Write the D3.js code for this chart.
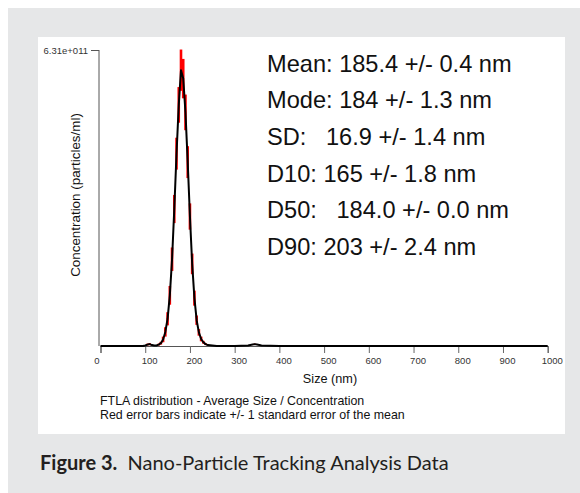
<!DOCTYPE html>
<html>
<head>
<meta charset="utf-8">
<script src="https://cdn.jsdelivr.net/npm/d3@7"></script>
<style>
  body { margin: 0; background: #fff; }
  text { font-family: "Liberation Sans", Arial, sans-serif; }
</style>
</head>
<body>
<div class="nta-plot"></div>
<script>
// size bins (nm) and concentration (x 1e11 particles/ml)
const sizes = [0, 50, 95, 100, 105, 110, 115, 120, 125, 130, 135, 140, 145, 150, 155, 160, 165, 170, 175,
  180, 185, 190, 195, 200, 205, 210, 215, 220, 225, 230, 235, 240, 250, 260, 300, 330, 340, 345, 350, 360, 400, 1000];
const conc = [0, 0, 0, 0.01, 0.03, 0.04, 0.02, 0.01, 0.01, 0.03, 0.06, 0.14, 0.30, 0.58, 1.08, 1.85, 2.92, 4.10, 5.14,
  5.88, 5.70, 4.98, 3.92, 2.76, 1.75, 1.02, 0.55, 0.29, 0.15, 0.08, 0.04, 0.02, 0.01, 0, 0, 0.01, 0.03, 0.04, 0.03, 0.01, 0, 0];
// standard error of the mean for each bin (same units)
const sem = [0, 0, 0, 0.01, 0.02, 0.02, 0.01, 0.01, 0.01, 0.02, 0.03, 0.06, 0.1, 0.14, 0.2, 0.25, 0.3, 0.34, 0.38,
  0.44, 0.42, 0.38, 0.34, 0.28, 0.22, 0.16, 0.1, 0.07, 0.05, 0.03, 0.02, 0.01, 0, 0, 0, 0, 0.01, 0.01, 0.01, 0, 0, 0];

const xTicks = [0, 100, 200, 300, 400, 500, 600, 700, 800, 900, 1000];
const yMax = 6.31; // 6.31e+011
const yTickLabels = ['6.31e+011'];

const stats = [
  'Mean: 185.4 +/- 0.4 nm',
  'Mode: 184 +/- 1.3 nm',
  'SD:   16.9 +/- 1.4 nm',
  'D10: 165 +/- 1.8 nm',
  'D50:   184.0 +/- 0.0 nm',
  'D90: 203 +/- 2.4 nm'
];
const notes = [
  'FTLA distribution - Average Size / Concentration',
  'Red error bars indicate +/- 1 standard error of the mean'
];

const width = 580;
const height = 493;
const svg = d3.select('.nta-plot')
  .append('svg')
  .attr('width', width)
  .attr('height', height);

// grey panel + white figure box
svg.append('rect').attr('x', 8).attr('y', 8).attr('width', width - 8).attr('height', height - 8).attr('fill', '#e6e7e8');
svg.append('rect').attr('x', 38).attr('y', 37).attr('width', 527).attr('height', 397).attr('fill', '#fff');

const x = d3.scaleLinear().domain([0, 1000]).range([100.5, 547.7]);
const y = d3.scaleLinear().domain([0, yMax]).range([346, 50]);

// x axis
const xAxis = svg.append('g')
  .attr('transform', 'translate(0,346)')
  .call(d3.axisBottom(x).tickValues(xTicks).tickSize(7).tickPadding(4).tickFormat(d3.format('d')));
xAxis.select('.domain').attr('stroke', '#555');
xAxis.selectAll('.tick line').attr('stroke', '#666');
xAxis.selectAll('.tick text').attr('font-size', 9.5).attr('fill', '#333')
  .attr('font-family', '"Liberation Sans", Arial, sans-serif')
  .attr('dx', d => d === 0 ? -4 : 4);

// y axis, only the top tick
const yAxis = svg.append('g')
  .attr('transform', 'translate(99,0)')
  .call(d3.axisLeft(y).tickValues([yMax]).tickSize(8).tickPadding(3).tickFormat((d, i) => yTickLabels[i]));
yAxis.select('.domain').attr('stroke', '#555').attr('d', 'M0,' + y(yMax) + 'V' + y(0));
yAxis.selectAll('.tick line').attr('stroke', '#555');
yAxis.selectAll('.tick text').attr('font-size', 9.5).attr('fill', '#333').attr('font-family', '"Liberation Sans", Arial, sans-serif');

// red error bars
svg.selectAll('line.err')
  .data(sizes.map((s, i) => ({s: s, c: conc[i], e: sem[i]})).filter(d => d.e > 0))
  .enter()
  .append('line')
  .attr('class', 'err')
  .attr('x1', d => x(d.s)).attr('x2', d => x(d.s))
  .attr('y1', d => y(d.c - d.e)).attr('y2', d => y(d.c + d.e))
  .attr('stroke', '#ff0000')
  .attr('stroke-width', 2.6);

// average concentration curve
const line = d3.line().x((d, i) => x(sizes[i])).y(d => y(d));
svg.append('path')
  .datum(conc)
  .attr('d', line)
  .attr('fill', 'none')
  .attr('stroke', '#000')
  .attr('stroke-width', 2)
  .attr('stroke-linejoin', 'round');

// axis titles
svg.append('text')
  .attr('x', 330).attr('y', 383)
  .attr('text-anchor', 'middle')
  .attr('font-size', 12.7)
  .attr('fill', '#111')
  .text('Size (nm)');
svg.append('text')
  .attr('transform', 'translate(80,195) rotate(-90)')
  .attr('text-anchor', 'middle')
  .attr('font-size', 13.4)
  .attr('fill', '#111')
  .text('Concentration (particles/ml)');

// stats block
svg.selectAll('text.stat')
  .data(stats)
  .enter()
  .append('text')
  .attr('class', 'stat')
  .attr('x', 267)
  .attr('y', (d, i) => 71.5 + i * 36.7)
  .attr('font-size', 23.6)
  .attr('fill', '#111')
  .style('white-space', 'pre')
  .text(d => d);

// notes under the chart
svg.selectAll('text.note')
  .data(notes)
  .enter()
  .append('text')
  .attr('class', 'note')
  .attr('x', 100)
  .attr('y', (d, i) => 404.5 + i * 14.3)
  .attr('font-size', 12.4)
  .attr('fill', '#111')
  .text(d => d);

// figure caption
const cap = svg.append('text')
  .attr('x', 40).attr('y', 470)
  .attr('font-size', 20)
  .attr('fill', '#231f20')
  .style('font-family', 'Lato, "Open Sans", sans-serif')
  .style('white-space', 'pre');
cap.append('tspan').attr('font-weight', 'bold').text('Figure 3.');
cap.append('tspan').text('  Nano-Particle Tracking Analysis Data');
</script>
</body>
</html>
